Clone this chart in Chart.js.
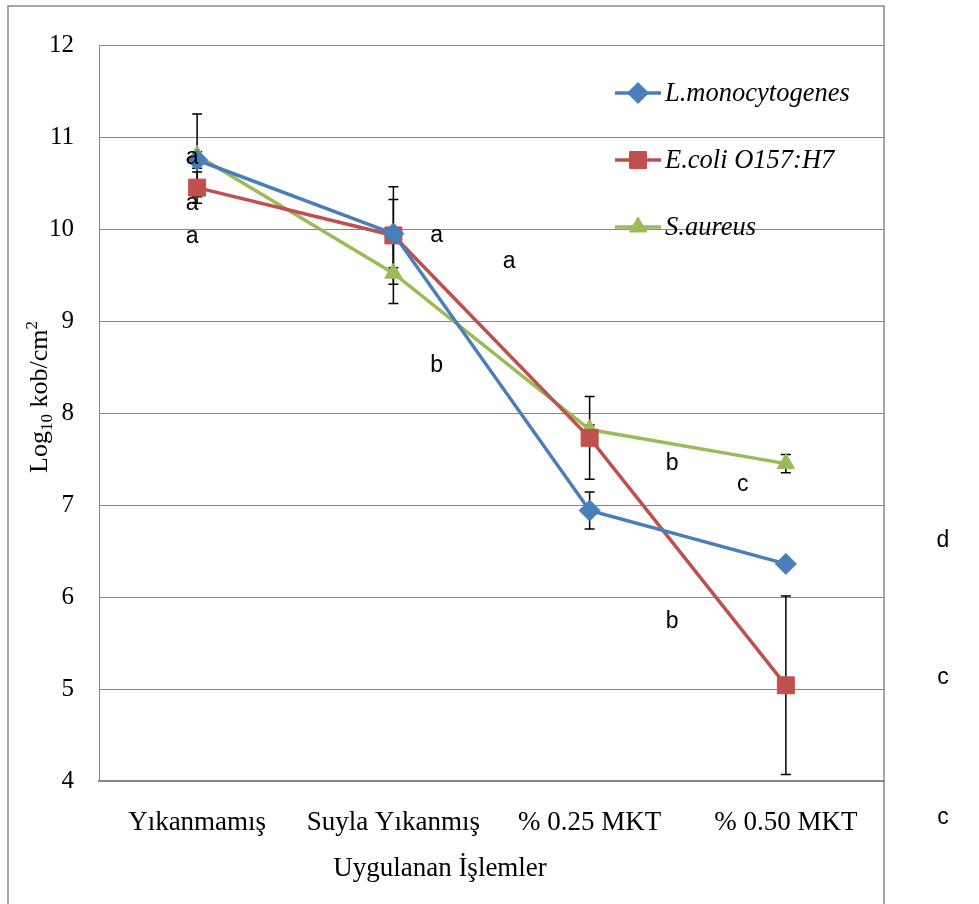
<!DOCTYPE html>
<html>
<head>
<meta charset="utf-8">
<script src="https://cdn.jsdelivr.net/npm/chart.js@4.4.0/dist/chart.umd.min.js"></script>
<style>
  body { margin: 0; background: #fff; }
  canvas { display: block; }
</style>
</head>
<body>
<canvas id="kobChart" width="979" height="904"></canvas>
<script>
// categories and tick labels
const categories = ['Yıkanmamış', 'Suyla Yıkanmış', '% 0.25 MKT', '% 0.50 MKT'];
const yTicks = [4, 5, 6, 7, 8, 9, 10, 11, 12];

// series values (log10 kob/cm2) and their error bars
const seriesNames = ['L.monocytogenes', 'E.coli O157:H7', 'S.aureus'];
const listeria = [10.75, 9.95, 6.94, 6.36];
const ecoli = [10.45, 9.93, 7.73, 5.04];
const saureus = [10.80, 9.52, 7.82, 7.45];
const listeriaErr = [0.09, 0.37, 0.2, 0.03];
const ecoliErr = [0.17, 0.53, 0.45, 0.97];
const saureusErr = [0.45, 0.33, 0.05, 0.1];

// significance letters (x = category index, y = value)
const letterText = ['a', 'a', 'a', 'a', 'a', 'b', 'b', 'c', 'b', 'd', 'c', 'c'];
const letterX = [-0.025, -0.025, -0.025, 1.22, 1.59, 1.22, 2.42, 2.78, 2.42, 3.8, 3.8, 3.8];
const letterY = [10.78, 10.28, 9.92, 9.93, 9.65, 8.51, 7.45, 7.22, 5.73, 6.61, 5.12, 3.6];

const serif = '"Liberation Serif", "Times New Roman", serif';
const colors = ['#4A7EBB', '#C0504D', '#9BBB59'];
const errors = [listeriaErr, ecoliErr, saureusErr];

// white background + outer frame
const framePlugin = {
  id: 'frame',
  beforeDraw(chart) {
    const ctx = chart.ctx;
    ctx.save();
    ctx.fillStyle = '#fff';
    ctx.fillRect(0, 0, chart.width, chart.height);
    ctx.strokeStyle = '#8a8a8a';
    ctx.lineWidth = 1.5;
    ctx.strokeRect(8, 6, 876, 1000);
    ctx.restore();
  }
};

// error bars under the markers
const errorBarPlugin = {
  id: 'errorBars',
  beforeDatasetsDraw(chart) {
    const ctx = chart.ctx;
    const x = chart.scales.x;
    const y = chart.scales.y;
    ctx.save();
    ctx.strokeStyle = '#000';
    ctx.lineWidth = 1.5;
    chart.data.datasets.forEach((ds, i) => {
      ds.data.forEach((v, j) => {
        const e = errors[i][j];
        if (!e) return;
        const px = x.getPixelForValue(j);
        const top = y.getPixelForValue(v + e);
        const bot = y.getPixelForValue(v - e);
        ctx.beginPath();
        ctx.moveTo(px, top);
        ctx.lineTo(px, bot);
        ctx.moveTo(px - 5, top);
        ctx.lineTo(px + 5, top);
        ctx.moveTo(px - 5, bot);
        ctx.lineTo(px + 5, bot);
        ctx.stroke();
      });
    });
    ctx.restore();
  }
};

// letters, legend and axis titles
const textPlugin = {
  id: 'texts',
  afterDraw(chart) {
    const ctx = chart.ctx;
    const x = chart.scales.x;
    const y = chart.scales.y;
    ctx.save();

    ctx.fillStyle = '#000';
    ctx.font = '23px "Liberation Sans", Arial, sans-serif';
    ctx.textAlign = 'center';
    ctx.textBaseline = 'middle';
    for (let i = 0; i < letterText.length; i++) {
      ctx.fillText(letterText[i], x.getPixelForValue(letterX[i]), y.getPixelForValue(letterY[i]));
    }

    // legend
    const legendY = [93, 160, 227];
    chart.data.datasets.forEach((ds, i) => {
      ctx.strokeStyle = ds.borderColor;
      ctx.lineWidth = 3.5;
      ctx.beginPath();
      ctx.moveTo(615, legendY[i]);
      ctx.lineTo(661, legendY[i]);
      ctx.stroke();
      ctx.fillStyle = ds.backgroundColor;
      ctx.lineWidth = 1;
      Chart.helpers.drawPoint(ctx, {
        pointStyle: ds.pointStyle,
        radius: ds.pointRadius,
        rotation: 0,
        borderWidth: 1
      }, 638, legendY[i]);
      ctx.fillStyle = '#000';
      ctx.font = 'italic 26.5px ' + serif;
      ctx.textAlign = 'left';
      ctx.textBaseline = 'middle';
      ctx.fillText(ds.label, 665, legendY[i] + 1);
    });

    // x title
    ctx.font = '27px ' + serif;
    ctx.textAlign = 'center';
    ctx.textBaseline = 'middle';
    ctx.fillText('Uygulanan İşlemler', 440, 869);

    // y title with sub/superscript
    ctx.translate(47, 397);
    ctx.rotate(-Math.PI / 2);
    ctx.textAlign = 'left';
    ctx.textBaseline = 'alphabetic';
    const parts = [
      { t: 'Log', size: 26, dy: 0 },
      { t: '10', size: 17, dy: 5 },
      { t: ' kob/cm', size: 26, dy: 0 },
      { t: '2', size: 17, dy: -10 }
    ];
    let total = 0;
    parts.forEach(p => {
      ctx.font = p.size + 'px ' + serif;
      p.w = ctx.measureText(p.t).width;
      total += p.w;
    });
    let cx = -total / 2;
    parts.forEach(p => {
      ctx.font = p.size + 'px ' + serif;
      ctx.fillText(p.t, cx, p.dy);
      cx += p.w;
    });
    ctx.restore();
  }
};

const datasets = [listeria, ecoli, saureus].map((vals, i) => ({
  label: seriesNames[i],
  data: vals,
  borderColor: colors[i],
  backgroundColor: colors[i],
  borderWidth: 3.5,
  pointStyle: ['rectRot', 'rect', 'triangle'][i],
  pointRadius: [10.5, 12, 10][i],
  pointBorderWidth: 1,
  tension: 0
}));

new Chart(document.getElementById('kobChart'), {
  type: 'line',
  data: { labels: categories, datasets: datasets },
  options: {
    responsive: false,
    animation: false,
    devicePixelRatio: 1,
    layout: { padding: { left: 0, top: 45, right: 95, bottom: 0 } },
    plugins: {
      legend: { display: false },
      tooltip: { enabled: false }
    },
    scales: {
      x: {
        offset: true,
        grid: { display: false, drawTicks: false },
        border: { color: '#868686', width: 2 },
        ticks: { color: '#000', font: { family: serif, size: 27 }, padding: 26, maxRotation: 0 },
        afterFit: s => { s.height = 123; }
      },
      y: {
        min: 4,
        max: 12,
        afterBuildTicks: s => { s.ticks = yTicks.map(v => ({ value: v })); },
        grid: { color: '#868686', lineWidth: 1, drawTicks: false },
        border: { color: '#868686', width: 1 },
        ticks: { color: '#000', font: { family: serif, size: 25 }, padding: 25 },
        afterFit: s => { s.width = 99; }
      }
    }
  },
  plugins: [framePlugin, errorBarPlugin, textPlugin]
});
</script>
</body>
</html>
